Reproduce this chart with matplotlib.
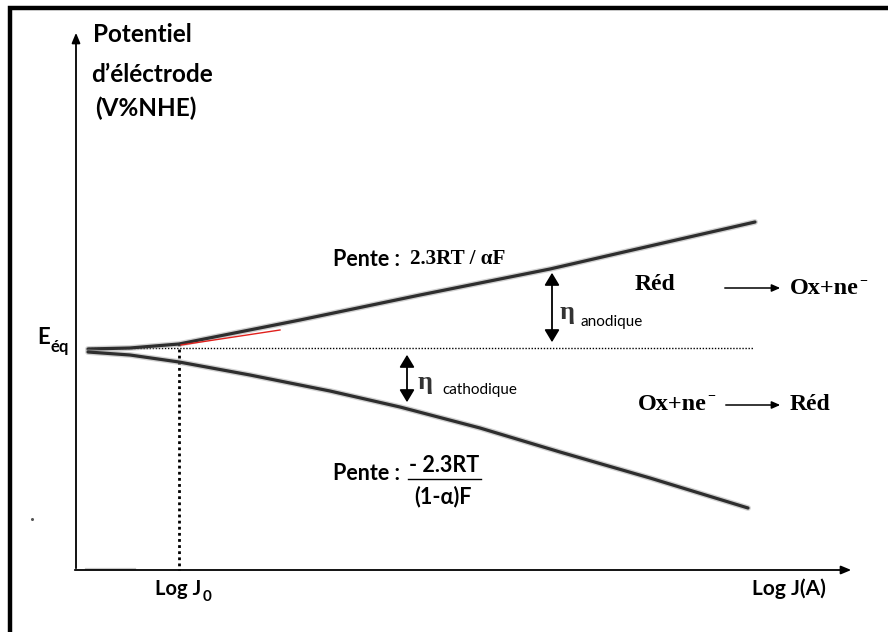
import matplotlib
matplotlib.use("Agg")
import matplotlib.pyplot as plt
from matplotlib.patches import FancyArrowPatch

# Tafel-type polarisation curves (log J on x, electrode potential on y; screen-style units)
logj_anodic = [88, 130, 179, 300, 420, 550, 650, 755]
e_anodic = [349, 348, 344, 320, 295, 269, 246, 222]

logj_cathodic = [88, 130, 179, 250, 330, 400, 480, 560, 650, 748]
e_cathodic = [352, 355, 362, 375, 391, 407, 428, 452, 478, 508]

# linear Tafel segment highlighted in red
logj_tafel = [181, 280]
e_tafel = [345, 330]

e_eq = 348
logj_0 = 179
logj_eq_end = 754

SANS = ["Lato", "DejaVu Sans"]
SERIF = ["Liberation Serif", "DejaVu Serif"]

fig = plt.figure(figsize=(8.88, 6.32), dpi=100)
ax = fig.add_axes([0, 0, 1, 1])
ax.set_xlim(0, 888)
ax.set_ylim(632, 0)
ax.axis("off")


def attach(txt, s, dx, y, **kw):
    """Place a sub/superscript right after an existing text object."""
    fig.canvas.draw()
    bb = txt.get_window_extent(fig.canvas.get_renderer())
    x1 = ax.transData.inverted().transform((bb.x1, bb.y0))[0]
    return ax.text(x1 + dx, y, s, ha="left", va="center", **kw)


# outer frame (runs off the right and bottom edges)
ax.plot([10, 10, 900], [660, 8, 8], color="black", lw=3.2, solid_joinstyle="miter")

# axes with arrow heads
ax.annotate("", xy=(76, 30), xytext=(76, 571),
            arrowprops=dict(arrowstyle="-|>,head_length=0.6,head_width=0.25", lw=1.3, color="black"))
ax.annotate("", xy=(854, 570), xytext=(72, 570),
            arrowprops=dict(arrowstyle="-|>,head_length=0.6,head_width=0.25", lw=1.3, color="black"))
ax.plot([86, 135], [569, 569], color="#bbbbbb", lw=1.6, alpha=0.8)
ax.plot([32], [519], marker="o", ms=1.2, color="#555555")

# equilibrium potential and exchange current guides
ax.plot([88, logj_eq_end], [e_eq, e_eq], color="black", lw=1.0, ls=(0, (1, 1.2)))
ax.plot([logj_0, logj_0], [343, 570], color="black", lw=2.0, ls=(0, (1, 1.2)))

# curves with a soft halo
for xs, ys in ((logj_anodic, e_anodic), (logj_cathodic, e_cathodic)):
    ax.plot(xs, ys, color="#9a9a9a", lw=4.2, alpha=0.45, solid_capstyle="round", solid_joinstyle="round")
    ax.plot(xs, ys, color="#2e2e2e", lw=2.3, solid_capstyle="round", solid_joinstyle="round")
ax.plot(logj_tafel, e_tafel, color="#e0201c", lw=1.0)

# axis titles
ax.text(93, 35, "Potentiel", family=SANS, weight="bold", fontsize=17.5, ha="left", va="center")
ax.text(91, 75, "d\u2019\u00e9l\u00e9ctrode", family=SANS, weight="bold", fontsize=17.5, ha="left", va="center")
ax.text(95, 108, "(V%NHE)", family=SANS, weight="bold", fontsize=17.5, ha="left", va="center")

t_e = ax.text(37, 337, "E", family=SANS, weight="bold", fontsize=16, ha="left", va="center")
attach(t_e, "\u00e9q", 0.5, 347, family=SANS, weight="bold", fontsize=12)

t_j0 = ax.text(155, 589, "Log J", family=SANS, weight="bold", fontsize=14.5, ha="left", va="center")
attach(t_j0, "0", 1, 597, family=SANS, weight="bold", fontsize=11)
ax.text(752, 589, "Log J(A)", family=SANS, weight="bold", fontsize=15, ha="left", va="center")

# anodic slope
ax.text(333, 259, "Pente :", family=SANS, weight="bold", fontsize=15.5, ha="left", va="center")
ax.text(410, 259, "2.3RT / \u03b1F", family=SERIF, weight="bold", fontsize=15.2, ha="left", va="center")

# cathodic slope as a fraction
ax.text(333, 474, "Pente :", family=SANS, weight="bold", fontsize=15.5, ha="left", va="center")
ax.text(444, 465, "- 2.3RT", family=SANS, weight="bold", fontsize=15.5, ha="center", va="center")
ax.plot([408, 481], [479, 479], color="black", lw=1.0)
ax.text(443, 497, "(1-\u03b1)F", family=SANS, weight="bold", fontsize=15.5, ha="center", va="center")

# overpotential arrows
for x, y0, y1 in ((552, 270, 345), (407, 352, 405)):
    ax.add_patch(FancyArrowPatch((x, y0), (x, y1), arrowstyle="<|-|>,head_length=5,head_width=3",
                                 color="black", lw=1.3, mutation_scale=1.5))
ax.text(560, 313, "\u03b7", family=SERIF, weight="bold", fontsize=19, ha="left", va="center", color="#333333")
ax.text(580, 322, "anodique", family=SANS, fontsize=11, ha="left", va="center")
ax.text(418, 382, "\u03b7", family=SERIF, weight="bold", fontsize=19, ha="left", va="center", color="#333333")
ax.text(442, 390, "cathodique", family=SANS, fontsize=11, ha="left", va="center")

# half reactions
ax.text(635, 284, "R\u00e9d", family=SERIF, weight="bold", fontsize=17, ha="left", va="center")
ax.annotate("", xy=(783, 288), xytext=(722, 288),
            arrowprops=dict(arrowstyle="-|>,head_length=0.5,head_width=0.22", lw=1.1, color="black"))
t_ox1 = ax.text(790, 289, "Ox+ne", family=SERIF, weight="bold", fontsize=17.5, ha="left", va="center")
attach(t_ox1, "\u2212", 0.5, 281, family=SERIF, weight="bold", fontsize=10)

t_ox2 = ax.text(638, 404, "Ox+ne", family=SERIF, weight="bold", fontsize=17.5, ha="left", va="center")
attach(t_ox2, "\u2212", 0.5, 396, family=SERIF, weight="bold", fontsize=10)
ax.annotate("", xy=(783, 405), xytext=(723, 405),
            arrowprops=dict(arrowstyle="-|>,head_length=0.5,head_width=0.22", lw=1.1, color="black"))
ax.text(790, 404, "R\u00e9d", family=SERIF, weight="bold", fontsize=17, ha="left", va="center")

fig.savefig("out.png", dpi=100)
